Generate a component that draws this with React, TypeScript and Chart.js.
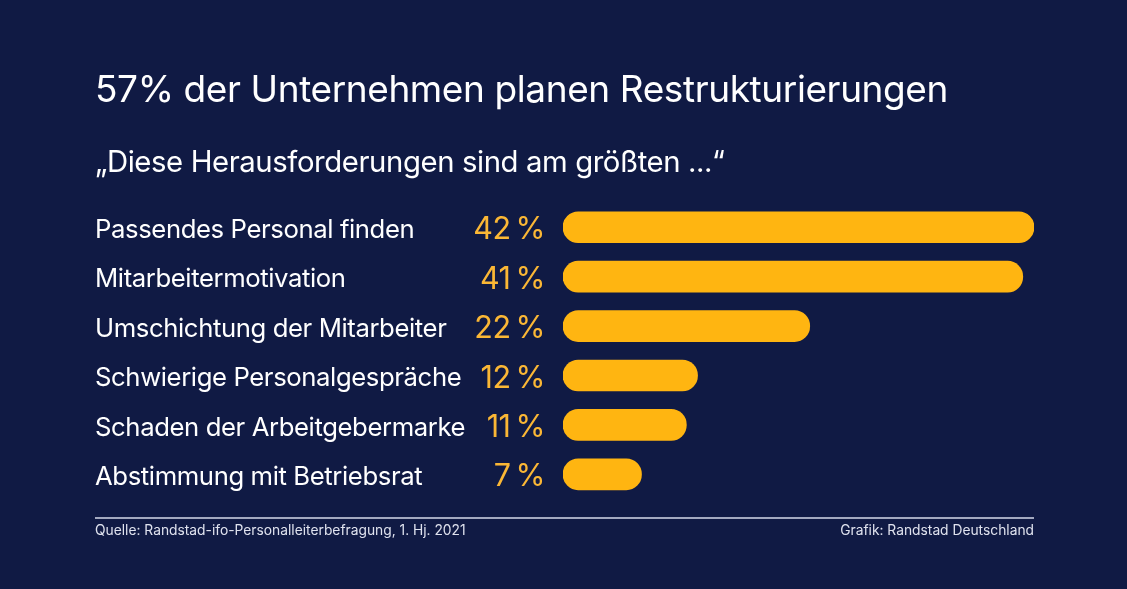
import React, { useEffect, useRef } from 'react';
import Chart from 'chart.js/auto';

const titleText = '57% der Unternehmen planen Restrukturierungen';
const subtitleText = '„Diese Herausforderungen sind am größten ...“';
const categories = [
  'Passendes Personal finden',
  'Mitarbeitermotivation',
  'Umschichtung der Mitarbeiter',
  'Schwierige Personalgespräche',
  'Schaden der Arbeitgebermarke',
  'Abstimmung mit Betriebsrat',
];
const shares = [42, 41, 22, 12, 11, 7];
const sourceText = 'Quelle: Randstad-ifo-Personalleiterbefragung, 1. Hj. 2021';
const creditText = 'Grafik: Randstad Deutschland';

const NAVY = '#101a44';
const AMBER = '#ffb511';
const FONT = 'Inter';

const annotations = {
  id: 'annotations',
  // the original type is set tighter than Inter
  beforeDraw(chart: any) {
    chart.ctx.letterSpacing = '-0.4px';
  },
  afterDatasetsDraw(chart: any) {
    const { ctx, chartArea, scales } = chart;
    ctx.save();

    // percent labels sit left of the bars
    ctx.letterSpacing = '-0.5px';
    ctx.fillStyle = '#fbb735';
    ctx.font = `30.5px ${FONT}`;
    ctx.textAlign = 'right';
    ctx.textBaseline = 'middle';
    shares.forEach((v, i) => {
      ctx.fillText(v + '\u2009%', chartArea.left - 18, scales.y.getPixelForValue(i) + 3);
    });

    // footer
    ctx.strokeStyle = '#d5d9ea';
    ctx.lineWidth = 1.5;
    ctx.beginPath();
    ctx.moveTo(95, 518);
    ctx.lineTo(chartArea.right, 518);
    ctx.stroke();

    ctx.letterSpacing = '0px';
    ctx.fillStyle = '#dfe2ee';
    ctx.font = `13.8px ${FONT}`;
    ctx.textAlign = 'left';
    ctx.fillText(sourceText, 95, 531);
    ctx.textAlign = 'right';
    ctx.fillText(creditText, chartArea.right, 531);
    ctx.restore();
  },
};

export default function App() {
  const chartRef = useRef<HTMLCanvasElement | null>(null);

  useEffect(() => {
    if (!chartRef.current) return;
    const chart = new Chart(chartRef.current, {
      type: 'bar',
      data: {
        labels: categories,
        datasets: [
          {
            data: shares,
            backgroundColor: AMBER,
            borderRadius: 16,
            borderSkipped: false,
            barThickness: 31,
          },
        ],
      },
      options: {
        indexAxis: 'y',
        responsive: false,
        animation: false,
        layout: { padding: { left: 95, right: 93, bottom: 90 } },
        scales: {
          x: { display: false, min: 0, max: 42 },
          y: {
            grid: { display: false },
            border: { display: false },
            afterFit: (scale: any) => {
              scale.width = 468;
            },
            ticks: {
              crossAlign: 'far',
              padding: 0,
              labelOffset: 3,
              color: '#ffffff',
              font: { family: FONT, size: 25.7 },
            },
          },
        },
        plugins: {
          legend: { display: false },
          tooltip: { enabled: false },
          title: {
            display: true,
            text: titleText,
            align: 'start',
            color: '#ffffff',
            font: { family: FONT, size: 37, weight: 'normal' },
            padding: { top: 69, bottom: 0 },
          },
          subtitle: {
            display: true,
            text: subtitleText,
            align: 'start',
            color: '#ffffff',
            font: { family: FONT, size: 29.3, weight: 'normal' },
            padding: { top: 32, bottom: 22 },
          },
        },
      },
      plugins: [annotations],
    });
    return () => chart.destroy();
  }, []);

  return (
    <div style={{ position: 'fixed', left: 0, top: 0 }}>
      <canvas ref={chartRef} width={1127} height={589} style={{ display: 'block', background: NAVY }} />
    </div>
  );
}
